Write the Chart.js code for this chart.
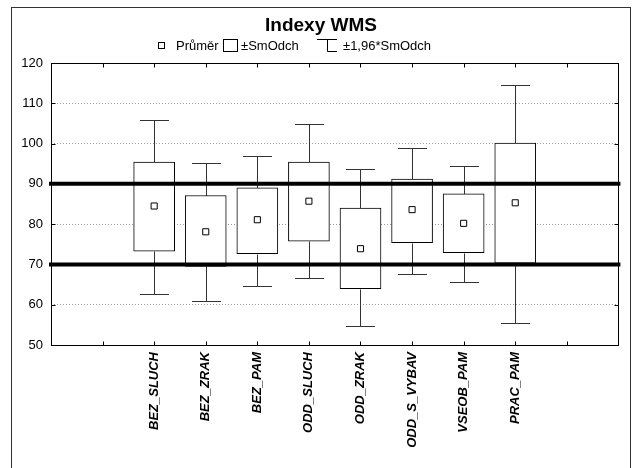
<!DOCTYPE html>
<html>
<head>
<meta charset="utf-8">
<script src="https://cdn.jsdelivr.net/npm/chart.js@4.4.1/dist/chart.umd.min.js"></script>
<style>
  body { margin: 0; background: #fff; }
  #wrap { position: relative; width: 633px; height: 468px; overflow: hidden; }
  #frame { position: absolute; left: 11px; top: 7px; width: 620px; height: 480px; border: 1px solid #333; box-sizing: border-box; pointer-events: none; }
  #title { position: absolute; left: 11px; top: 15px; width: 620px; text-align: center; font: bold 19px "Liberation Sans", Arial, sans-serif; line-height: 19px; color: #000; }
  .lg { position: absolute; top: 39px; font: 13px "Liberation Sans", Arial, sans-serif; line-height: 14px; color: #000; white-space: nowrap; }
  .sq { position: absolute; left: 158px; top: 42px; width: 5px; height: 5px; border: 1px solid #000; }
  .bx { position: absolute; left: 223px; top: 39px; width: 15px; height: 13px; border: 1px solid #000; box-sizing: border-box; }
  .wh { position: absolute; left: 317px; top: 39px; }
  canvas { position: absolute; left: 0; top: 0; }
</style>
</head>
<body>
<div id="wrap">
  <canvas id="chart" width="633" height="468"></canvas>
  <div id="frame"></div>
  <div id="title">Indexy WMS</div>
  <div class="sq"></div><span class="lg" style="left:176px">Průměr</span>
  <div class="bx"></div><span class="lg" style="left:241px">±SmOdch</span>
  <svg class="wh" width="20" height="13"><path d="M0 0.5H20M10.5 0.5V12.5M10.5 12.5H20" stroke="#000" fill="none"/></svg><span class="lg" style="left:343px">±1,96*SmOdch</span>
</div>
<script>
// kategorie a hodnoty
const categories = ['BEZ_SLUCH', 'BEZ_ZRAK', 'BEZ_PAM', 'ODD_SLUCH', 'ODD_ZRAK', 'ODD_S_VYBAV', 'VSEOB_PAM', 'PRAC_PAM'];
const means  = [84.5, 78.1, 81.1, 85.7, 73.9, 83.6, 80.2, 85.3];
const sdLow  = [73.3, 69.5, 72.7, 75.8, 64.0, 75.4, 72.9, 70.3];
const sdHigh = [95.4, 87.1, 89.0, 95.4, 84.0, 91.2, 87.5, 100.1];
const ciLow  = [62.7, 61.0, 64.7, 66.7, 54.6, 67.6, 65.7, 55.5];
const ciHigh = [105.9, 95.3, 96.9, 104.9, 93.8, 98.9, 94.4, 114.6];
const yTicks = [50, 60, 70, 80, 90, 100, 110, 120];
const refLines = [70, 90];

// kategorie leží na pozicích 2..9 osy 0..11
const xMin = 0, xMax = 11, firstSlot = 2;
const slot = i => i + firstSlot;

const whiskers = {
  id: 'whiskers',
  beforeDatasetsDraw(chart) {
    const {ctx, scales: {x, y}} = chart;
    ctx.save();
    ctx.strokeStyle = '#333';
    ctx.lineWidth = 1;
    categories.forEach((c, i) => {
      const px = Math.round(x.getPixelForValue(slot(i))) + 0.5;
      const seg = (a, b) => {
        const ya = Math.round(y.getPixelForValue(a)) + 0.5;
        const yb = Math.round(y.getPixelForValue(b)) + 0.5;
        ctx.beginPath();
        ctx.moveTo(px, ya); ctx.lineTo(px, yb);
        ctx.moveTo(px - 14.5, ya); ctx.lineTo(px + 14.5, ya);
        ctx.stroke();
      };
      seg(ciLow[i], sdLow[i]);
      seg(ciHigh[i], sdHigh[i]);
    });
    ctx.restore();
  },
  afterDatasetsDraw(chart) {
    const {ctx, chartArea: a, scales: {x, y}} = chart;
    ctx.save();
    ctx.strokeStyle = '#000';
    ctx.lineWidth = 1;
    const l = Math.round(a.left) + 0.5, r = Math.round(a.right) + 0.5;
    const t = Math.round(a.top) + 0.5, b = Math.round(a.bottom) + 0.5;
    ctx.strokeRect(l, t, r - l, b - t);
    ctx.beginPath();
    for (let v = xMin + 1; v < xMax; v++) {
      const px = Math.round(x.getPixelForValue(v)) + 0.5;
      ctx.moveTo(px, t); ctx.lineTo(px, t + 4);
      ctx.moveTo(px, b); ctx.lineTo(px, b - 4);
    }
    yTicks.slice(1, -1).forEach(v => {
      const py = Math.round(y.getPixelForValue(v)) + 0.5;
      ctx.moveTo(l, py); ctx.lineTo(l + 4, py);
      ctx.moveTo(r, py); ctx.lineTo(r - 4, py);
    });
    ctx.stroke();
    ctx.restore();
  }
};

new Chart(document.getElementById('chart'), {
  type: 'bar',
  data: {
    datasets: [
      {
        type: 'scatter',
        label: 'Průměr',
        data: categories.map((c, i) => ({x: slot(i), y: means[i]})),
        pointStyle: 'rect',
        pointRadius: 4.3,
        pointBackgroundColor: '#fff',
        pointBorderColor: '#000',
        pointBorderWidth: 1,
        order: 1
      },
      ...refLines.map(v => ({
        type: 'line',
        label: 'ref ' + v,
        data: [{x: xMin, y: v}, {x: xMax, y: v}],
        borderColor: '#000',
        borderWidth: 4,
        borderCapStyle: 'square',
        pointRadius: 0,
        clip: false,
        order: 2
      })),
      {
        type: 'bar',
        label: '±SmOdch',
        data: categories.map((c, i) => ({x: slot(i), y: [sdLow[i], sdHigh[i]]})),
        backgroundColor: '#fff',
        borderColor: '#000',
        borderWidth: 1,
        borderSkipped: false,
        barThickness: 41,
        grouped: false,
        order: 3
      }
    ]
  },
  options: {
    responsive: false,
    animation: false,
    layout: {padding: {top: 63, right: 12, left: 0, bottom: 0}},
    scales: {
      x: {
        type: 'linear',
        offset: false,
        min: xMin,
        max: xMax,
        afterFit: s => { s.height = 123; },
        grid: {display: false, offset: false},
        border: {display: false},
        ticks: {
          stepSize: 1,
          autoSkip: false,
          minRotation: 90,
          maxRotation: 90,
          padding: -1,
          color: '#000',
          font: {family: '"Liberation Sans", Arial, sans-serif', size: 13, weight: 'bold', style: 'italic'},
          callback: v => categories[v - firstSlot] ?? ''
        }
      },
      y: {
        min: yTicks[0],
        max: yTicks[yTicks.length - 1],
        afterFit: s => { s.width = 51; },
        afterBuildTicks: s => { s.ticks = yTicks.map(v => ({value: v})); },
        grid: {
          drawTicks: false,
          color: c => [60, 80, 100, 110].includes(c.tick && c.tick.value) ? '#999' : 'transparent'
        },
        border: {display: false, dash: [1, 2]},
        ticks: {
          padding: 8,
          color: '#000',
          font: {family: '"Liberation Sans", Arial, sans-serif', size: 13}
        }
      }
    },
    plugins: {
      legend: {display: false},
      tooltip: {enabled: false}
    }
  },
  plugins: [whiskers]
});
</script>
</body>
</html>
